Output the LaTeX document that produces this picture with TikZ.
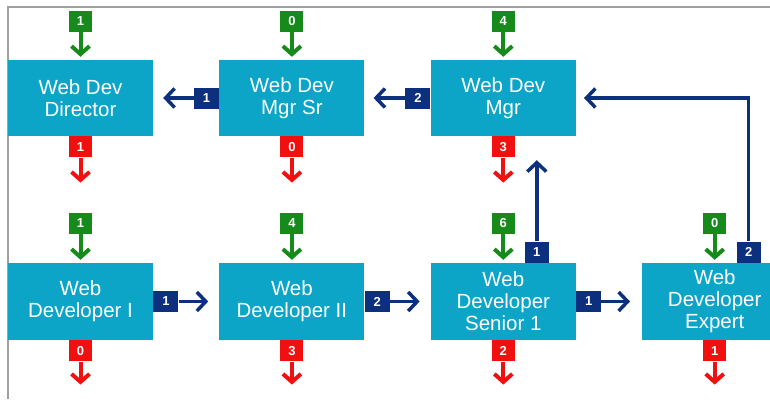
\documentclass[tikz,border=0pt]{standalone}
\usepackage{fontspec}
\setmainfont{Liberation Sans}
\usepackage{xcolor}
\usetikzlibrary{arrows.meta, positioning}

\definecolor{jobteal}{RGB}{12,165,200}
\definecolor{ingreen}{RGB}{22,138,26}
\definecolor{outred}{RGB}{240,16,16}
\definecolor{movenavy}{RGB}{12,48,125}
\definecolor{framegray}{RGB}{160,160,160}

\tikzset{
    job/.style={fill=jobteal, text=white, minimum width=145pt, minimum height=76pt,
        inner sep=0pt, align=center, font=\fontsize{20.5}{22}\selectfont},
    badge/.style={minimum width=23pt, minimum height=21pt, inner sep=0pt,
        text=white, font=\fontsize{13}{13}\selectfont\bfseries},
    inbadge/.style={badge, fill=ingreen},
    outbadge/.style={badge, fill=outred},
    movebadge/.style={badge, fill=movenavy, minimum width=25pt},
    inflow/.style={ingreen, line width=4pt, shorten >=3pt,
        -{Straight Barb[length=8pt, width=18pt]}},
    outflow/.style={outred, line width=4pt,
        -{Straight Barb[length=8pt, width=18pt]}},
    moveflow/.style={movenavy, line width=3.5pt,
        -{Straight Barb[length=9pt, width=19pt]}},
}

\begin{document}
\begin{tikzpicture}[x=1pt, y=-1pt]
    \useasboundingbox (0,0) rectangle (770,399);
    \clip (0,0) rectangle (770,399);
    \draw[framegray, line width=1.5pt] (8,399) -- (8,7) -- (770,7); % frame

    % managers
    \node[job] (dir) at (80.5,98) {Web Dev\\Director};
    \node[job, right=66pt of dir] (mgrsr) {Web Dev\\Mgr Sr};
    \node[job, right=66pt of mgrsr] (mgr) {Web Dev\\Mgr};

    % developers
    \node[job, minimum height=77pt] (dev1) at (80.5,301.5) {Web\\Developer I};
    \node[job, minimum height=77pt, right=66pt of dev1] (dev2) {Web\\Developer II};
    \node[job, minimum height=77pt, right=66pt of dev2] (sen) {Web\\Developer\\Senior 1};
    \node[job, minimum height=77pt, right=66pt of sen] (expert) {Web\\Developer\\Expert};

    % hires in
    \node[inbadge, above=28pt of dir] (dir in) {1};
    \node[inbadge, above=28pt of mgrsr] (mgrsr in) {0};
    \node[inbadge, above=28pt of mgr] (mgr in) {4};
    \node[inbadge, above=29pt of dev1] (dev1 in) {1};
    \node[inbadge, above=29pt of dev2] (dev2 in) {4};
    \node[inbadge, above=29pt of sen] (sen in) {6};
    \node[inbadge, above=29pt of expert] (expert in) {0};

    % leavers
    \node[outbadge, below=0pt of dir] (dir out) {1};
    \node[outbadge, below=0pt of mgrsr] (mgrsr out) {0};
    \node[outbadge, below=0pt of mgr] (mgr out) {3};
    \node[outbadge, below=0pt of dev1] (dev1 out) {0};
    \node[outbadge, below=0pt of dev2] (dev2 out) {3};
    \node[outbadge, below=0pt of sen] (sen out) {2};
    \node[outbadge, below=0pt of expert] (expert out) {1};
    \coordinate[below=25pt of dir out] (dir gone);
    \coordinate[below=25pt of mgrsr out] (mgrsr gone);
    \coordinate[below=25pt of mgr out] (mgr gone);
    \coordinate[below=23pt of dev1 out] (dev1 gone);
    \coordinate[below=23pt of dev2 out] (dev2 gone);
    \coordinate[below=23pt of sen out] (sen gone);
    \coordinate[below=23pt of expert out] (expert gone);

    % moves
    \node[movebadge, left=0pt of mgrsr] (mgrsr up) {1};
    \node[movebadge, left=0pt of mgr] (mgr up) {2};
    \node[movebadge, right=0pt of dev1] (dev1 up) {1};
    \node[movebadge, right=0pt of dev2] (dev2 up) {2};
    \node[movebadge, right=0pt of sen] (sen up) {1};
    \node[movebadge, anchor=south, minimum width=24pt] (sen mgr) at ([xshift=33.5pt]sen.north) {1};
    \node[movebadge, anchor=south, minimum width=24pt] (expert mgr) at ([xshift=34pt]expert.north) {2};

    \foreach \b in {dir, mgrsr, mgr, dev1, dev2, sen, expert} {
        \draw[inflow] (\b\space in) -- (\b);
        \draw[outflow] (\b\space out) -- (\b\space gone);
    }

    \draw[moveflow, shorten >=10pt] (mgrsr up) -- (dir.east |- mgrsr up);
    \draw[moveflow, shorten >=9pt] (mgr up) -- (mgrsr.east |- mgr up);
    \draw[moveflow, shorten >=11pt] (dev1 up) -- (dev2.west |- dev1 up);
    \draw[moveflow, shorten >=11pt] (dev2 up) -- (sen.west |- dev2 up);
    \draw[moveflow, shorten >=12pt] (sen up) -- (expert.west |- sen up);
    \draw[moveflow, shorten >=24pt] (sen mgr) -- (sen mgr |- mgr.south);
    \draw[moveflow, shorten >=8pt] (expert mgr) |- (mgr.east);
\end{tikzpicture}
\end{document}
